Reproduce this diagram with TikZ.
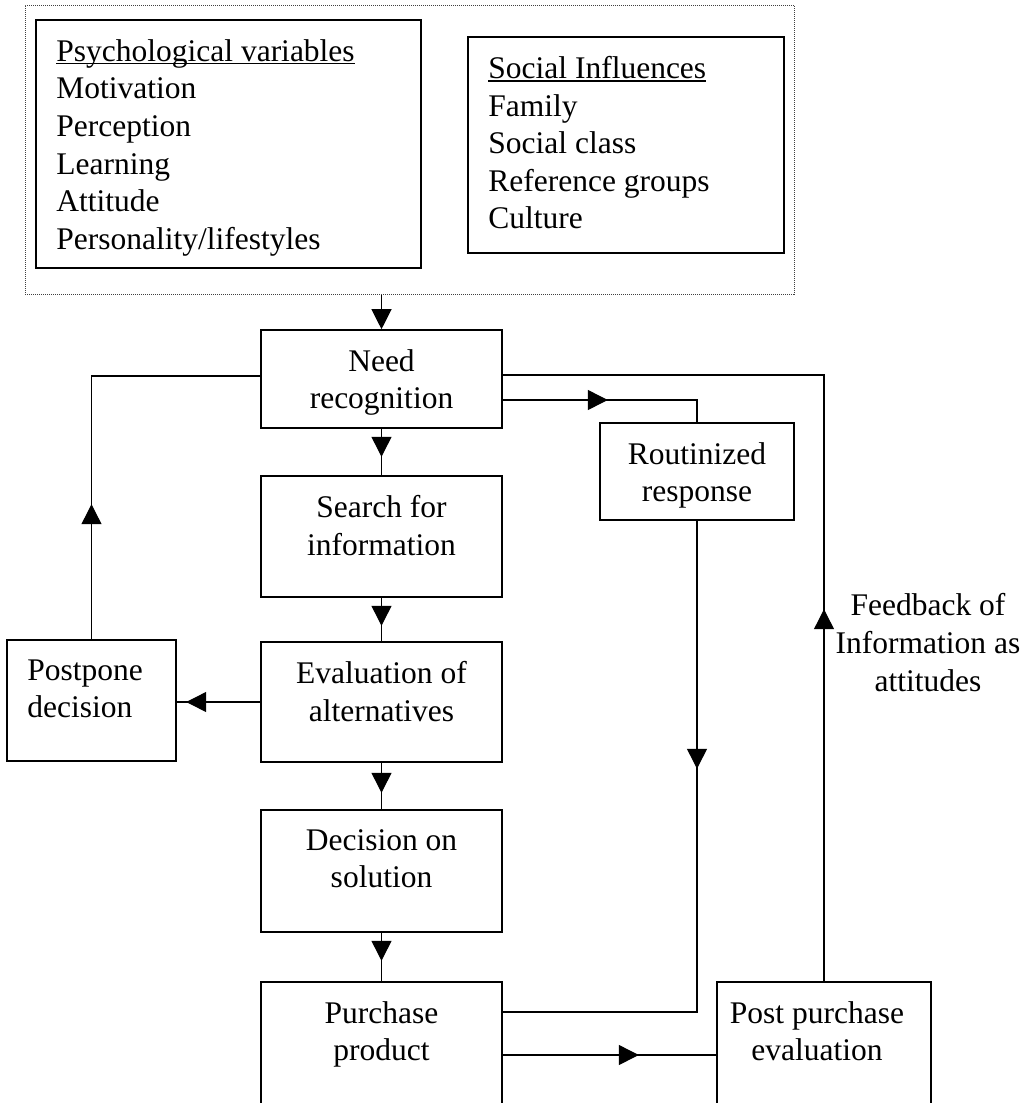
\documentclass[tikz,border=0pt]{standalone}
\usepackage{fontspec}
\setmainfont{Liberation Serif}
\usetikzlibrary{positioning,arrows.meta,decorations.markings}
\newsavebox\ulbox
\newcommand{\wordul}[1]{\sbox\ulbox{#1}\rlap{\rule[-3pt]{\wd\ulbox}{1.3pt}}\usebox\ulbox}
\tikzset{
  stage/.style={draw, line width=1.6pt, inner sep=0pt},
  stagetext/.style={inner sep=0pt, align=center, font=\fontsize{31.5}{37.6}\selectfont},
  link/.style={line width=1.2pt},
  midarrow/.style={postaction={decorate},
    decoration={markings, mark=at position #1 with {\arrow{Triangle[width=20pt,length=20pt]}}}},
}
\begin{document}
\begin{tikzpicture}[x=1pt, y=-1pt]
    \clip (0,0) rectangle (1034,1103);
    % influences on the buyer
    \node[draw, dash pattern=on 1pt off 1pt, line width=1pt, black!75,
          minimum width=769pt, minimum height=289pt] (factors) at (409.5,149.5) {};
    \node[stage, minimum width=385pt, minimum height=248pt] (psych) at (228.5,144) {};
    \node[stage, minimum width=316pt, minimum height=216pt] (social) at (626,145) {};
    \node[stagetext, align=left, below right=20pt and 21pt of psych.north west] (psychtxt)
        {\wordul{Psychological variables}\\Motivation\\Perception\\Learning\\Attitude\\Personality/lifestyles};
    \node[stagetext, align=left, below right=20pt and 21pt of social.north west] (socialtxt)
        {\wordul{Social Influences}\\Family\\Social class\\Reference groups\\Culture};
    % decision stages
    \node[stage, minimum width=241pt, minimum height=98pt]  (need)     at (381.5,379) {};
    \node[stage, minimum width=241pt, minimum height=121pt] (search)   at (381.5,536.5) {};
    \node[stage, minimum width=241pt, minimum height=120pt] (eval)     at (381.5,702) {};
    \node[stage, minimum width=241pt, minimum height=122pt] (decision) at (381.5,871) {};
    \node[stage, minimum width=241pt, minimum height=123pt] (purchase) at (381.5,1043.5) {};
    \node[stage, minimum width=169pt, minimum height=121pt] (postpone) at (91.5,700.5) {};
    \node[stage, minimum width=194pt, minimum height=97pt]  (routine)  at (697,471.5) {};
    \node[stage, minimum width=214pt, minimum height=123pt] (post)     at (824,1043.5) {};
    \node[stagetext, below=20pt of need.north] (needtxt) {Need\\recognition};
    \node[stagetext, below=20pt of search.north] (searchtxt) {Search for\\information};
    \node[stagetext, below=20pt of eval.north] (evaltxt) {Evaluation of\\alternatives};
    \node[stagetext, below=20pt of decision.north] (decisiontxt) {Decision on\\solution};
    \node[stagetext, below=20pt of purchase.north] (purchasetxt) {Purchase\\product};
    \node[stagetext, align=left, below right=20pt and 21pt of postpone.north west] (postponetxt) {Postpone\\decision};
    \node[stagetext, below=20pt of routine.north] (routinetxt) {Routinized\\response};
    \node[stagetext, below=20pt of post.north, xshift=-7pt] (posttxt) {Post purchase\\evaluation};
    \node[stagetext, anchor=north] (feedback) at (928,593.5) {Feedback of\\Information as\\attitudes};
    % connectors
    \draw[link, -{Triangle[width=20pt,length=20pt]}] (factors.south -| need.north) -- (need.north);
    \draw[link, midarrow=28pt] (need) -- (search);
    \draw[link, midarrow=28pt] (search) -- (eval);
    \draw[link, midarrow=30pt] (eval) -- (decision);
    \draw[link, midarrow=28pt] (decision) -- (purchase);
    \draw[link, midarrow=74pt] (eval.west) -- (eval.west -| postpone.east);
    \draw[link, midarrow=135pt] (postpone.north) |- ([yshift=3pt]need.west);
    \draw[link, midarrow=105pt] ([yshift=-21pt]need.east) -| (routine.north);
    \draw[link, midarrow=248pt] (routine.south) |- ([yshift=31.5pt]purchase.east);
    \draw[link, midarrow=136pt] ([yshift=-11.5pt]purchase.east) -- ([yshift=-11.5pt]purchase.east -| post.west);
    \draw[link, midarrow=372pt] (post.north) |- ([yshift=4pt]need.east);
\end{tikzpicture}
\end{document}
